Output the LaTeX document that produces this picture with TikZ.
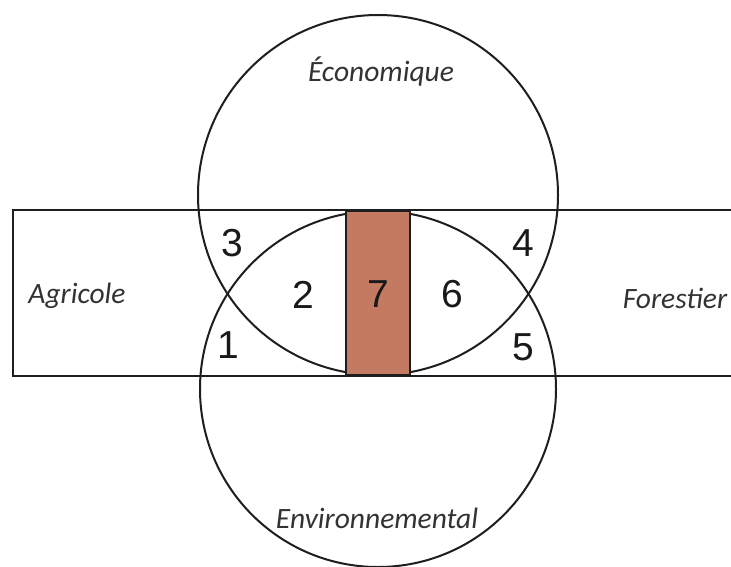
\documentclass[tikz,border=0pt]{standalone}
\usepackage{fontspec}
\setmainfont{Carlito}
\newfontfamily\numfont{Liberation Sans}
\definecolor{linec}{RGB}{30,30,30}
\definecolor{brownc}{RGB}{196,122,96}
\begin{document}
\begin{tikzpicture}[x=1pt,y=-1pt,
  outline/.style={draw=linec,line width=2pt},
  lbl/.style={font=\itshape\fontsize{29.5}{32}\selectfont,text=black!80,inner sep=0pt},
  num/.style={font=\numfont\fontsize{39}{42}\selectfont,text=black!90,inner sep=0pt}]
\useasboundingbox (0,0) rectangle (731,566);
\fill[white] (0,0) rectangle (731,566);
% band
\draw[outline] (735,210) -- (13,210) -- (13,376) -- (735,376);
% circles
\draw[outline] (378,195) circle[radius=180];
\draw[outline] (378,389) circle[radius=178];
% central brown strip
\draw[outline,fill=brownc,line width=1.5pt] (346,211) rectangle (410,375);
% labels
\node[lbl] (eco) at (381,72) {Économique};
\node[lbl] (env) at (377,518) {Environnemental};
\node[lbl] (agr) at (77,296) {Agricole};
\node[lbl] (for) at (675,298) {Forestier};
% numbers
\node[num] (n3) at (232,243) {3};
\node[num] (n1) at (228,345) {1};
\node[num] (n2) at (303,295) {2};
\node[num] (n7) at (378,294) {7};
\node[num] (n6) at (452,294) {6};
\node[num] (n4) at (523,243) {4};
\node[num] (n5) at (523,347) {5};
\end{tikzpicture}
\end{document}
